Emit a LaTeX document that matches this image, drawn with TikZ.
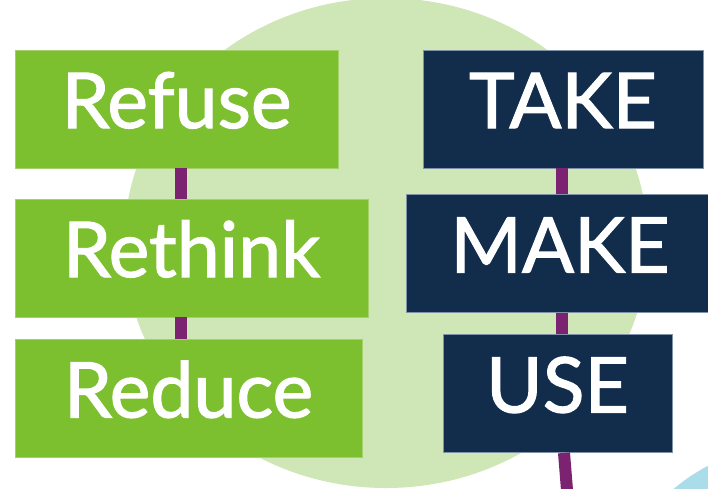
\documentclass[tikz,border=0pt]{standalone}
\usepackage{fontspec}
\setmainfont{Lato}
\newfontfamily\boxfont{Lato}[FakeBold=1.5]
\usepackage{xcolor}
\definecolor{RRGreen}{HTML}{7DC02F}
\definecolor{RRGreenEdge}{HTML}{A3D06A}
\definecolor{RRPale}{HTML}{CFE6B7}
\definecolor{RRNavy}{HTML}{122C4C}
\definecolor{RRNavyEdge}{HTML}{8092A8}
\definecolor{RRPurple}{HTML}{7B2270}
\definecolor{RRBlue}{HTML}{AADCEA}
\usepackage{tikz}
\usetikzlibrary{positioning}
\usetikzlibrary{calc}

\begin{document}
\begin{tikzpicture}[
    x=1pt, y=-1pt,
    auto,
    rBox/.style={rectangle,
    fill=RRGreen,
    draw=RRGreenEdge,
    line width=0.8pt,
    text=white,
    font=\boxfont\fontsize{77}{80}\selectfont,
    inner sep=0pt,
    minimum height=118pt,
    text height=78pt,
    text depth=40pt},
    lBox/.style={rBox,
    fill=RRNavy,
    draw=RRNavyEdge},
    stem/.style={draw=RRPurple, line width=12pt}
    ]
    \useasboundingbox (0,0) rectangle (708,488);
    \clip (0,0) rectangle (708,488);
    % background blobs
    \fill[RRPale] (386,243) ellipse [x radius=262pt, y radius=245pt];
    \fill[RRBlue] (800,640) circle [radius=197pt];
    % left column
    \node[rBox, minimum width=323pt] (refuse) at (176.5,109) {Refuse};
    \node[rBox, minimum width=353pt] (rethink) at (191.5,258) {Rethink};
    \node[rBox, minimum width=347pt] (reduce) at (188.5,398.5) {Reduce};
    \coordinate (lstem) at (181,0);
    \draw[stem] (refuse.south -| lstem) -- (rethink.north -| lstem);
    \draw[stem] (rethink.south -| lstem) -- (reduce.north -| lstem);
    % right column
    \node[lBox, minimum width=280pt] (take) at (563,109) {TAKE};
    \node[lBox, minimum width=308pt] (make) at (560,253.5) {MAKE};
    \node[lBox, minimum width=229pt] (use) at (557.5,393.5) {USE};
    \coordinate (rstem) at (562,0);
    \coordinate (tail) at (567,490);
    \draw[stem] (take.south -| rstem) -- (make.north -| rstem);
    \draw[stem] (make.south -| rstem) -- (use.north -| rstem);
    \draw[stem] (use.south -| 564,0) -- (tail);
  \end{tikzpicture}
\end{document}
